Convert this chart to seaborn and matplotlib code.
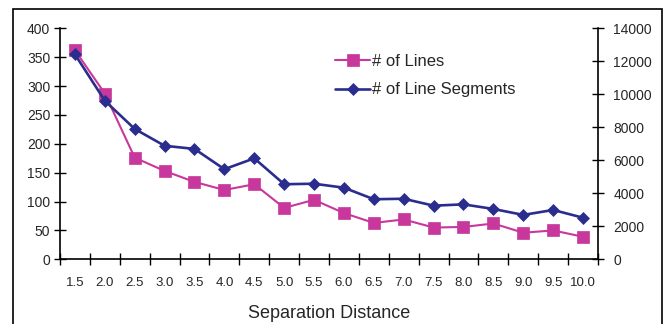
import matplotlib
matplotlib.use("Agg")
import matplotlib.pyplot as plt
from matplotlib.patches import Rectangle
from matplotlib.ticker import FixedLocator, MultipleLocator
import seaborn as sns
import pandas as pd

# Separation distance categories
separation = [1.5, 2.0, 2.5, 3.0, 3.5, 4.0, 4.5, 5.0, 5.5,
              6.0, 6.5, 7.0, 7.5, 8.0, 8.5, 9.0, 9.5, 10.0]
tick_labels = ["1.5", "2.0", "2.5", "3.0", "3.5", "4.0", "4.5", "5.0", "5.5",
               "6.0", "6.5", "7.0", "7.5", "8.0", "8.5", "9.0", "9.5", "10.0"]

# Number of lines (left axis)
num_lines = [362, 287, 176, 153, 134, 120, 130, 89, 103,
             80, 63, 69, 55, 56, 62, 46, 50, 39]

# Number of line segments (right axis)
num_segments = [12420, 9610, 7900, 6880, 6690, 5460, 6120, 4550, 4580,
                4340, 3640, 3670, 3250, 3330, 3050, 2690, 2990, 2520]

df = pd.DataFrame({"sep": separation, "lines": num_lines, "segments": num_segments})

sns.set_style("white")
plt.rcParams["font.family"] = ["Liberation Sans", "DejaVu Sans"]

MAGENTA = "#C8379B"
NAVY = "#2B2D8E"

fig = plt.figure(figsize=(6.67, 3.24), dpi=100)
ax = fig.add_axes([60 / 667, 1 - 259.3 / 324, (598 - 60) / 667, (259.3 - 28.3) / 324])
ax2 = ax.twinx()

sns.lineplot(data=df, x="sep", y="lines", ax=ax, color=MAGENTA, linewidth=1.5,
             marker="s", markersize=8.5, markeredgecolor=MAGENTA,
             markeredgewidth=0.5, label="# of Lines", legend=False)
sns.lineplot(data=df, x="sep", y="segments", ax=ax2, color=NAVY, linewidth=1.9,
             marker="D", markersize=6, markeredgecolor=NAVY,
             markeredgewidth=0.5, label="# of Line Segments", legend=False)

# Axes limits and ticks
ax.set_xlim(1.25, 10.25)
ax.set_ylim(0, 400)
ax2.set_ylim(0, 14000)
ax.yaxis.set_major_locator(MultipleLocator(50))
ax2.yaxis.set_major_locator(MultipleLocator(2000))

ax.xaxis.set_major_locator(FixedLocator(separation))
ax.set_xticklabels(tick_labels)
ax.xaxis.set_minor_locator(FixedLocator([1.25 + 0.5 * k for k in range(19)]))

ax.tick_params(axis="x", which="major", length=0, pad=13, labelsize=9.5)
ax.tick_params(axis="x", which="minor", length=8, width=1, direction="inout",
               color="black", bottom=True)
ax.tick_params(axis="y", which="major", length=8, width=1, direction="inout",
               pad=3, labelsize=10, left=True, color="black")
ax2.tick_params(axis="y", which="major", length=8, width=1, direction="inout",
                pad=7, labelsize=10, right=True, color="black")

for a in (ax, ax2):
    a.set_ylabel("")
    a.spines["top"].set_visible(False)
    for side in ("left", "bottom", "right"):
        a.spines[side].set_color("black")
        a.spines[side].set_linewidth(1.2)
ax.spines["right"].set_visible(False)
ax2.spines["left"].set_visible(False)
ax2.spines["bottom"].set_visible(False)
ax.grid(False)
ax2.grid(False)

ax.set_xlabel("Separation Distance", fontsize=13, labelpad=11)

# Legend without frame
handles = ax.get_lines()[:1] + ax2.get_lines()[:1]
labels = ["# of Lines", "# of Line Segments"]
fig.legend(handles, labels, loc="upper left", bbox_to_anchor=(335 / 667, 1 - 54 / 324),
           frameon=False, fontsize=12, handlelength=2.1, handletextpad=0.15,
           borderpad=0, borderaxespad=0, labelspacing=0.8)

# Outer chart border
fig.add_artist(Rectangle((12.7 / 667, -0.1), (661.7 - 12.7) / 667, 1.1 - 9.3 / 324,
                         transform=fig.transFigure, fill=False,
                         edgecolor="black", linewidth=1.2))

fig.savefig("out.png", dpi=100)
